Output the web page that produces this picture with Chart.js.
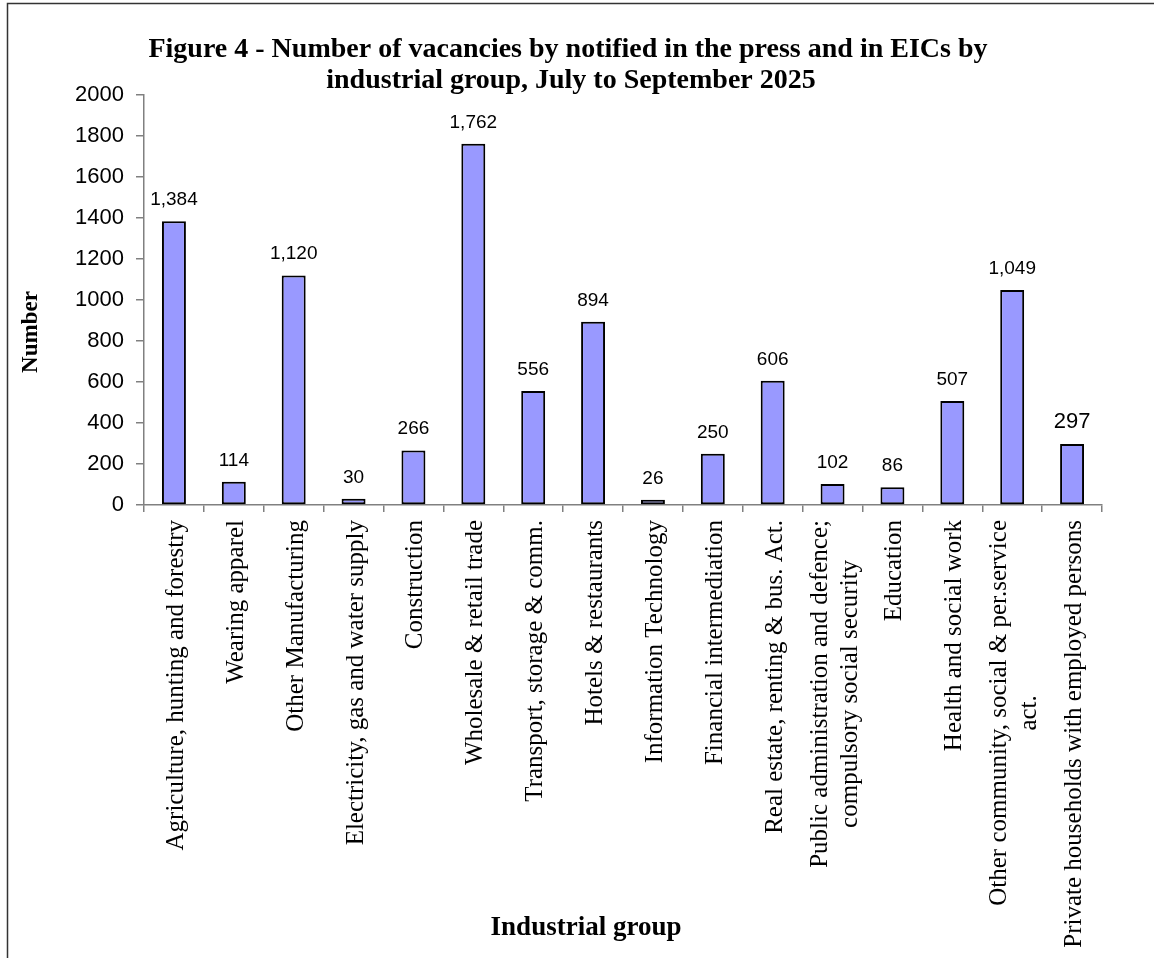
<!DOCTYPE html>
<html>
<head>
<meta charset="utf-8">
<script src="https://cdn.jsdelivr.net/npm/chart.js@4/dist/chart.umd.min.js"></script>
<style>
  html, body { margin: 0; padding: 0; background: #fff; }
  canvas { display: block; }
</style>
</head>
<body>
<canvas id="chart" width="1154" height="958"></canvas>
<script>
const categories = [
  'Agriculture, hunting and forestry',
  'Wearing apparel',
  'Other Manufacturing',
  'Electricity, gas and water supply',
  'Construction',
  'Wholesale & retail trade',
  'Transport, storage & comm.',
  'Hotels & restaurants',
  'Information Technology',
  'Financial intermediation',
  'Real estate, renting & bus. Act.',
  ['Public administration and defence;', 'compulsory social security'],
  'Education',
  'Health and social work',
  ['Other community, social & per.service', 'act.'],
  'Private households with employed persons'
]
const vacancies = [1384, 114, 1120, 30, 266, 1762, 556, 894, 26, 250, 606, 102, 86, 507, 1049, 297]
const titleLines = [
  'Figure 4 - Number of vacancies by notified in the press and in EICs by',
  'industrial group, July to September 2025'
]
const yTitle = 'Number'
const xTitle = 'Industrial group'

const SERIF = '"Liberation Serif", "Times New Roman", serif'
const SANS = '"Liberation Sans", Arial, sans-serif'

const decorPlugin = {
  id: 'decor',
  afterDraw(chart){
    const ctx = chart.ctx
    const area = chart.chartArea
    const xs = chart.scales.x
    ctx.save()
    // frame
    ctx.strokeStyle = '#333'
    ctx.lineWidth = 1.5
    ctx.beginPath()
    ctx.moveTo(7.5, 958); ctx.lineTo(7.5, 3.5); ctx.lineTo(1154, 3.5)
    ctx.stroke()

    // title
    ctx.fillStyle = '#000'
    ctx.font = 'bold 28px ' + SERIF
    ctx.textAlign = 'center'
    ctx.textBaseline = 'alphabetic'
    ctx.fillText(titleLines[0], 568, 57)
    ctx.fillText(titleLines[1], 571, 88)

    // axis titles
    ctx.font = 'bold 27px ' + SERIF
    ctx.fillText(xTitle, 586, 935)
    ctx.save()
    ctx.translate(31, 332)
    ctx.rotate(-Math.PI/2)
    ctx.font = 'bold 23px ' + SERIF
    ctx.textBaseline = 'middle'
    ctx.fillText(yTitle, 0, 0)
    ctx.restore()

    // category labels, rotated
    ctx.font = '25px ' + SERIF
    categories.forEach((lab, i) => {
      const cx = xs.getPixelForValue(i)
      const lines = Array.isArray(lab) ? lab : [lab]
      const maxW = Math.max(...lines.map(l => ctx.measureText(l).width))
      ctx.save()
      ctx.translate(cx, area.bottom + 15)
      ctx.rotate(-Math.PI/2)
      ctx.textBaseline = 'alphabetic'
      lines.forEach((l, j) => {
        const off = 9 + (j - (lines.length - 1)/2) * 30
        if(lines.length === 1){
          ctx.textAlign = 'right'
          ctx.fillText(l, 0, off)
        } else {
          ctx.textAlign = 'center'
          ctx.fillText(l, -maxW/2, off)
        }
      })
      ctx.restore()
    })

    // value labels
    const meta = chart.getDatasetMeta(0)
    ctx.textAlign = 'center'
    ctx.textBaseline = 'alphabetic'
    meta.data.forEach((bar, i) => {
      ctx.font = (i === vacancies.length - 1 ? '22px ' : '19px ') + SANS
      ctx.fillText(vacancies[i].toLocaleString('en-US'), bar.x, bar.y - 16)
    })
    ctx.restore()
  }
}

new Chart(document.getElementById('chart'), {
  type: 'bar',
  data: {
    labels: categories,
    datasets: [{
      data: vacancies,
      backgroundColor: '#9999FF',
      borderColor: '#000',
      borderWidth: 2,
      borderSkipped: false,
      barPercentage: 0.4,
      categoryPercentage: 1
    }]
  },
  options: {
    responsive: false,
    devicePixelRatio: 1,
    animation: false,
    layout: { padding: { top: 95, left: 0, right: 52, bottom: 453 } },
    plugins: { legend: { display: false }, tooltip: { enabled: false }, title: { display: false } },
    scales: {
      x: {
        offset: true,
        grid: { offset: true, drawOnChartArea: false, drawTicks: true, tickLength: 7, color: '#808080', lineWidth: 1.5 },
        border: { color: '#808080', width: 1.5 },
        ticks: { display: false },
        afterFit(s){ s.height = 0 }
      },
      y: {
        min: 0, max: 2000,
        grid: { drawOnChartArea: false, drawTicks: true, tickLength: 8, color: '#808080', lineWidth: 1.5 },
        border: { color: '#808080', width: 1.5 },
        ticks: { stepSize: 200, padding: 12, color: '#000', font: { family: SANS, size: 22 }, callback: v => String(v) },
        afterFit(s){ s.width = 144 }
      }
    }
  },
  plugins: [decorPlugin]
})
</script>
</body>
</html>
